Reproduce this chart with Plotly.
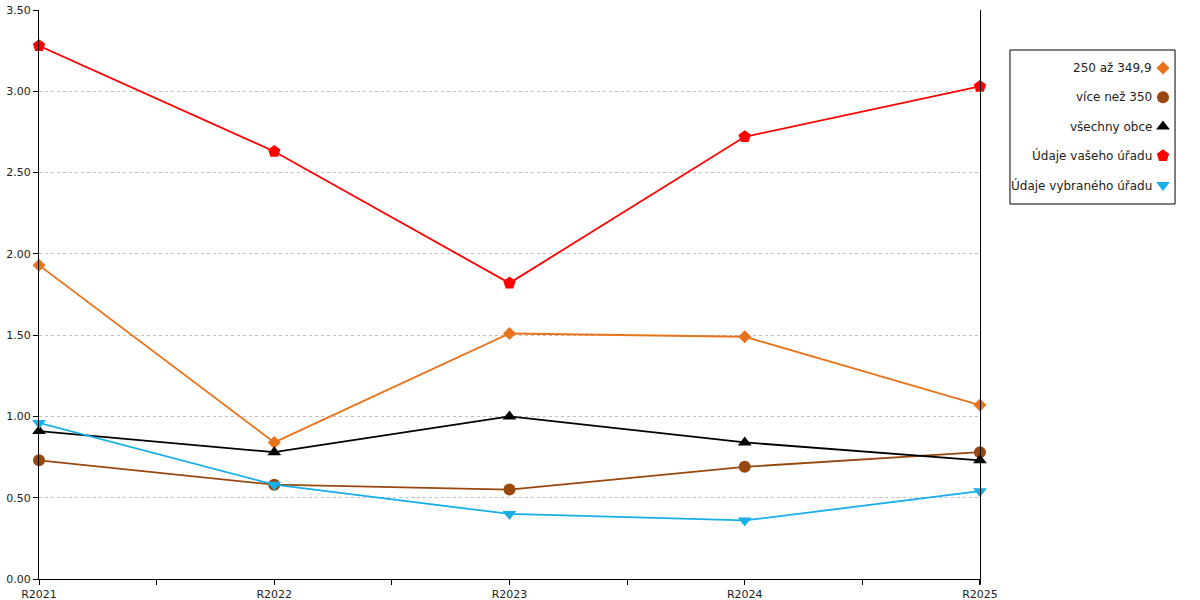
import plotly.graph_objects as go

years = ["R2021", "R2022", "R2023", "R2024", "R2025"]

series_names = [
    "250 až 349,9",
    "více než 350",
    "všechny obce",
    "Údaje vašeho úřadu",
    "Údaje vybraného úřadu",
]
vals_250 = [1.93, 0.84, 1.51, 1.49, 1.07]
vals_350 = [0.73, 0.58, 0.55, 0.69, 0.78]
vals_all = [0.91, 0.78, 1.00, 0.84, 0.73]
vals_vas = [3.28, 2.63, 1.82, 2.72, 3.03]
vals_vybr = [0.96, 0.58, 0.40, 0.36, 0.54]

colors = ["#E8731A", "#98480E", "#000000", "#FF0000", "#18AEE8"]
symbols = ["diamond", "circle", "triangle-up", "pentagon", "triangle-down"]
sizes = [10, 12, 12, 13, 12]

FONT = "DejaVu Sans"
PLOT_RIGHT = 0.8175  # main plot area ends here (paper coords)

fig = go.Figure()
x_idx = list(range(len(years)))
all_vals = [vals_250, vals_350, vals_all, vals_vas, vals_vybr]
for name, vals, col, sym, sz in zip(series_names, all_vals, colors, symbols, sizes):
    fig.add_trace(
        go.Scatter(
            x=x_idx,
            y=vals,
            mode="lines+markers",
            name=name,
            line=dict(color=col, width=1.8),
            marker=dict(color=col, symbol=sym, size=sz),
            showlegend=False,
            cliponaxis=False,
        )
    )

# --- manual legend (text on the left, symbol on the right) ---
n = len(series_names)
for i, (name, col, sym, sz) in enumerate(zip(series_names, colors, symbols, sizes)):
    fig.add_trace(
        go.Scatter(
            x=[0],
            y=[i],
            mode="markers",
            marker=dict(color=col, symbol=sym, size=sz),
            xaxis="x2",
            yaxis="y2",
            showlegend=False,
            hoverinfo="skip",
        )
    )
    fig.add_annotation(
        x=-9,
        y=i,
        xref="x2",
        yref="y2",
        text=name,
        showarrow=False,
        xanchor="right",
        font=dict(family=FONT, size=12, color="#222222"),
    )

fig.add_shape(
    type="rect",
    xref="paper",
    yref="paper",
    x0=0.8436,
    x1=0.9870,
    y0=0.659,
    y1=0.9297,
    line=dict(color="#000000", width=1),
)
# right border line of plot area (nudged half a pixel to stay crisp)
fig.add_shape(
    type="line",
    xref="paper",
    yref="paper",
    x0=0.8180,
    x1=0.8180,
    y0=-0.01,
    y1=1,
    line=dict(color="#000000", width=1),
)

fig.update_layout(
    width=1200,
    height=600,
    margin=dict(l=39, r=10, t=10, b=21, autoexpand=False),
    paper_bgcolor="white",
    plot_bgcolor="white",
    font=dict(family=FONT, size=11, color="#222222"),
    xaxis=dict(
        domain=[0, PLOT_RIGHT],
        range=[0, 4],
        tickvals=x_idx,
        ticktext=years,
        ticks="outside",
        ticklen=5,
        tickcolor="#000000",
        showline=True,
        linecolor="#000000",
        linewidth=1,
        showgrid=False,
        zeroline=False,
        automargin=False,
        ticklabeloverflow="allow",
        minor=dict(dtick=0.5, tick0=0, ticks="outside", ticklen=5, tickcolor="#000000"),
        tickfont=dict(family=FONT, size=11, color="#222222"),
    ),
    yaxis=dict(
        range=[0, 3.5],
        dtick=0.5,
        tickformat=".2f",
        ticks="outside",
        ticklen=5,
        tickcolor="#000000",
        showline=True,
        linecolor="#000000",
        linewidth=1,
        showgrid=True,
        gridcolor="#c0c0c0",
        griddash="dot",
        gridwidth=1,
        zeroline=False,
        automargin=False,
        ticklabeloverflow="allow",
        tickfont=dict(family=FONT, size=11, color="#222222"),
    ),
    xaxis2=dict(
        domain=[PLOT_RIGHT, 1.0],
        anchor="y2",
        range=[-183, 27],
        visible=False,
    ),
    yaxis2=dict(
        domain=[0.659, 0.9297],
        anchor="x2",
        range=[4.65, -0.615],
        visible=False,
    ),
)

# drop the browser's default body margin so the figure starts at the corner
fig.write_html(
    "out.html",
    config={"displayModeBar": False},
    post_script="document.body.style.margin = '0';",
)
